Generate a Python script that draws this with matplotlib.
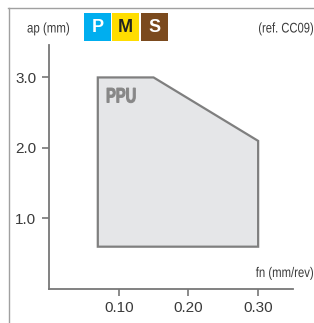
import matplotlib.pyplot as plt
from matplotlib.patches import Polygon, Rectangle, PathPatch
from matplotlib.lines import Line2D
from matplotlib.textpath import TextPath
from matplotlib.font_manager import FontProperties
from matplotlib.transforms import Affine2D

# chipbreaker working area (fn, ap)
fn_pts = [0.07, 0.07, 0.15, 0.30, 0.30]
ap_pts = [0.6, 3.0, 3.0, 2.1, 0.6]
x_ticks = [0.10, 0.20, 0.30]
x_labels = ['0.10', '0.20', '0.30']
y_ticks = [1.0, 2.0, 3.0]
y_labels = ['1.0', '2.0', '3.0']
iso_groups = ['P', 'M', 'S']
iso_colors = ['#00aeef', '#ffdd00', '#7b4a1e']
iso_text = ['white', '#222222', 'white']

plt.rcParams['font.family'] = ['Liberation Sans', 'DejaVu Sans']

W, H = 314, 323
fig = plt.figure(figsize=(W / 100, H / 100), dpi=100)


def narrow_text(s, x, y, size, sx, color, weight='normal', ha='left', stroke=0):
    # condensed text: x, y in pixels from top-left, y is the baseline
    tp = TextPath((0, 0), s, size=size,
                  prop=FontProperties(family='Liberation Sans', weight=weight))
    w = tp.get_extents().x1 * sx
    x0 = x - w if ha == 'right' else x
    tr = Affine2D().scale(sx, 1).translate(x0, H - y)
    fig.add_artist(PathPatch(tr.transform_path(tp), facecolor=color,
                             edgecolor=color if stroke else 'none',
                             lw=stroke, transform=None))


# outer frame
fig.add_artist(Line2D([8 / W, 1], [1 - 7.5 / H] * 2, color='#a0a0a0', lw=1.0))
fig.add_artist(Line2D([8.5 / W] * 2, [0, 1 - 7.5 / H], color='#a0a0a0', lw=1.0))

ax = fig.add_axes([49 / W, 1 - 289 / H, 244 / W, 244 / H])
ax.set_xlim(0, 0.35)
ax.set_ylim(0, 3.46)

ax.add_patch(Polygon(list(zip(fn_pts, ap_pts)), closed=True,
                     facecolor='#e5e6e8', edgecolor='#7f7f7f', lw=1.6))

for s in ['top', 'right']:
    ax.spines[s].set_visible(False)
for s in ['left', 'bottom']:
    ax.spines[s].set_color('#777777')
    ax.spines[s].set_linewidth(1.3)

ax.set_xticks(x_ticks)
ax.set_xticklabels(x_labels)
ax.set_yticks(y_ticks)
ax.set_yticklabels(y_labels)
ax.tick_params(colors='#777777', labelcolor='#3a3a3a', labelsize=11,
               length=5, width=1.2, pad=4)

narrow_text('PPU', 106, 102.5, 21, 0.70, '#878787', weight='bold', stroke=0.7)
narrow_text('ap (mm)', 27, 32.5, 14, 0.82, '#3a3a3a')
narrow_text('(ref. CC09)', 313, 32.5, 14, 0.80, '#3a3a3a', ha='right')
narrow_text('fn (mm/rev)', 313, 277, 14, 0.81, '#3a3a3a', ha='right')

box_x = [84, 112, 141]
for bx, g, c, tc in zip(box_x, iso_groups, iso_colors, iso_text):
    fig.add_artist(Rectangle((bx / W, 1 - 41 / H), 27 / W, 28 / H,
                             facecolor=c, edgecolor='none'))
    fig.text((bx + 13.5) / W, 1 - 27.5 / H, g, fontsize=13, fontweight='bold',
             color=tc, ha='center', va='center')

fig.savefig('out.png', dpi=100)
